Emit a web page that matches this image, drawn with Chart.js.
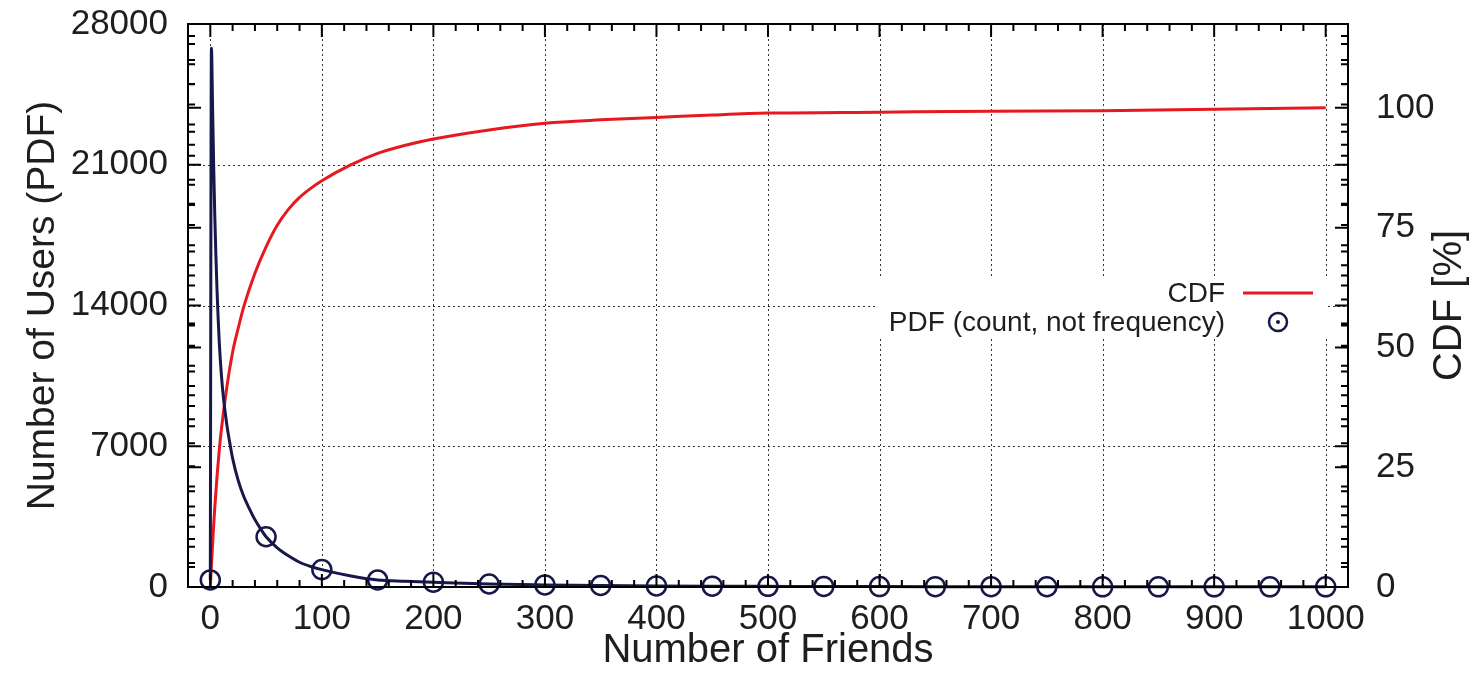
<!DOCTYPE html>
<html>
<head>
<meta charset="utf-8">
<title>Number of Friends</title>
<script src="https://cdn.jsdelivr.net/npm/chart.js@4.4.1/dist/chart.umd.min.js"></script>
<style>
  html, body { margin: 0; padding: 0; background: #fff; }
  #wrap { width: 1472px; height: 675px; }
</style>
</head>
<body>
<div id="wrap"><canvas id="friendsChart" width="1472" height="675"></canvas></div>
<script>
// axis ticks
const friendTicks = [0, 100, 200, 300, 400, 500, 600, 700, 800, 900, 1000];
const userTicks = [0, 7000, 14000, 21000, 28000];
const cdfTicks = [0, 25, 50, 75, 100];

// PDF: users per friend count (circles every 50 friends)
const pdfFriends = [0, 1, 2, 3, 4, 5, 6, 7, 8, 10, 12, 15, 18, 20, 25, 30, 35, 40, 45, 50,
  60, 70, 80, 90, 100, 125, 150, 175, 200, 250, 300, 350, 400, 450, 500,
  550, 600, 650, 700, 750, 800, 850, 900, 950, 1000];
const pdfUsers = [350, 26800, 24000, 21000, 18500, 16500, 14800, 13400, 12200, 10500, 9300, 8000, 7000, 6400, 5300, 4500, 3900, 3350, 2900, 2500,
  1950, 1550, 1230, 1020, 866, 560, 350, 290, 240, 150, 105, 75, 55, 42, 33,
  26, 21, 17, 14, 12, 10, 9, 8, 8, 7];

// CDF in percent
const cdfFriends = [0, 1, 2, 3, 4, 6, 8, 10, 15, 20, 25, 30, 40, 50, 60, 70, 80, 90, 100,
  125, 150, 175, 200, 250, 300, 350, 400, 450, 500, 600, 700, 800, 900, 1000];
const cdfPercent = [0, 4.6, 8.8, 12.8, 16.5, 23, 28.5, 33, 42, 49, 54, 58.5, 65.5, 71, 75.5, 78.8, 81.3, 83.2, 84.8,
  88, 90.5, 92.2, 93.5, 95.4, 96.8, 97.5, 98, 98.5, 98.9, 99.1, 99.3, 99.4, 99.7, 100];

const markerEvery = 50;
const RED = '#e5191f';
const NAVY = '#17174a';
const TEXT = '#1e1e1e';
const FONT = "'Liberation Sans', Arial, sans-serif";

function rangeStep(from, to, step) {
  const out = [];
  for (let v = from; v <= to + 1e-9; v += step) out.push(v);
  return out;
}

// gnuplot-like frame: dotted grid, inward ticks on all sides, key box, right title
const gnuFrame = {
  id: 'gnuFrame',
  beforeDatasetsDraw(chart) {
    const { ctx, chartArea: a, scales: { x, y } } = chart;
    ctx.save();
    ctx.strokeStyle = '#333';
    ctx.lineWidth = 1;
    ctx.setLineDash([2, 3]);
    ctx.beginPath();
    friendTicks.forEach(v => {
      const px = Math.round(x.getPixelForValue(v)) + 0.5;
      ctx.moveTo(px, a.top);
      ctx.lineTo(px, a.bottom);
    });
    userTicks.slice(1, -1).forEach(v => {
      const py = Math.round(y.getPixelForValue(v)) + 0.5;
      ctx.moveTo(a.left, py);
      ctx.lineTo(a.right, py);
    });
    ctx.stroke();
    ctx.setLineDash([]);

    // key
    ctx.fillStyle = '#fff';
    ctx.fillRect(878, 278, 450, 60);
    ctx.font = '28px ' + FONT;
    ctx.fillStyle = TEXT;
    ctx.textAlign = 'right';
    ctx.textBaseline = 'middle';
    ctx.fillText('CDF', 1225, 294);
    ctx.fillText('PDF (count, not frequency)', 1225, 323);
    ctx.strokeStyle = RED;
    ctx.lineWidth = 3;
    ctx.beginPath();
    ctx.moveTo(1243, 293);
    ctx.lineTo(1313, 293);
    ctx.stroke();
    ctx.strokeStyle = NAVY;
    ctx.lineWidth = 2.5;
    ctx.beginPath();
    ctx.arc(1278, 322, 9, 0, Math.PI * 2);
    ctx.stroke();
    ctx.fillStyle = NAVY;
    ctx.beginPath();
    ctx.arc(1278, 322, 2, 0, Math.PI * 2);
    ctx.fill();
    ctx.restore();
  },
  afterDatasetsDraw(chart) {
    const { ctx, chartArea: a, scales: { x, y, y2 } } = chart;
    ctx.save();
    ctx.strokeStyle = '#000';
    ctx.lineWidth = 2;
    ctx.strokeRect(a.left, a.top, a.right - a.left, a.bottom - a.top);

    const major = 13, minor = 7;
    ctx.beginPath();
    rangeStep(0, 1000, 20).forEach(v => {
      const px = x.getPixelForValue(v);
      const len = v % 100 === 0 ? major : minor;
      ctx.moveTo(px, a.bottom); ctx.lineTo(px, a.bottom - len);
      ctx.moveTo(px, a.top); ctx.lineTo(px, a.top + len);
    });
    rangeStep(0, 28000, 1000).forEach(v => {
      const py = y.getPixelForValue(v);
      const len = v % 7000 === 0 ? major : minor;
      ctx.moveTo(a.left, py); ctx.lineTo(a.left + len, py);
      ctx.moveTo(a.right, py); ctx.lineTo(a.right - len, py);
    });
    rangeStep(0, 115, 5).forEach(v => {
      const py = y2.getPixelForValue(v);
      const len = v % 25 === 0 ? major : minor;
      ctx.moveTo(a.left, py); ctx.lineTo(a.left + len, py);
      ctx.moveTo(a.right, py); ctx.lineTo(a.right - len, py);
    });
    ctx.stroke();

    // right axis title, reading bottom to top
    ctx.translate(1450, (a.top + a.bottom) / 2);
    ctx.rotate(-Math.PI / 2);
    ctx.font = '40px ' + FONT;
    ctx.fillStyle = TEXT;
    ctx.textAlign = 'center';
    ctx.textBaseline = 'middle';
    ctx.fillText('CDF [%]', 0, 0);
    ctx.restore();
  }
};

const fixTicks = values => scale => { scale.ticks = values.map(v => ({ value: v })); };
const plainLabel = v => String(v);
const fixBox = (prop, size) => s => {
  s[prop] = size;
  s.paddingTop = 0; s.paddingBottom = 0; s.paddingLeft = 0; s.paddingRight = 0;
};

new Chart(document.getElementById('friendsChart').getContext('2d'), {
  type: 'line',
  data: {
    datasets: [
      {
        label: 'PDF (count, not frequency)',
        data: pdfFriends.map((f, i) => ({ x: f, y: pdfUsers[i] })),
        yAxisID: 'y',
        borderColor: NAVY,
        borderWidth: 3,
        cubicInterpolationMode: 'monotone',
        pointRadius: c => (c.raw && c.raw.x % markerEvery === 0 ? 9.5 : 0),
        pointBorderWidth: 2.5,
        pointBorderColor: NAVY,
        pointBackgroundColor: 'rgba(0,0,0,0)',
        clip: false
      },
      {
        label: 'CDF',
        data: cdfFriends.map((f, i) => ({ x: f, y: cdfPercent[i] })),
        yAxisID: 'y2',
        borderColor: RED,
        borderWidth: 3,
        cubicInterpolationMode: 'monotone',
        pointRadius: 0
      }
    ]
  },
  options: {
    responsive: false,
    animation: false,
    devicePixelRatio: 1,
    layout: { padding: { top: 24, left: 0, right: 0, bottom: 0 } },
    plugins: { legend: { display: false }, tooltip: { enabled: false } },
    scales: {
      x: {
        type: 'linear',
        min: -20,
        max: 1020,
        afterBuildTicks: fixTicks(friendTicks),
        afterFit: fixBox('height', 88),
        grid: { display: false, drawTicks: false },
        border: { display: false },
        ticks: { padding: 11, color: TEXT, font: { size: 35, family: FONT }, maxRotation: 0, callback: plainLabel },
        title: { display: true, text: 'Number of Friends', color: TEXT, font: { size: 40, family: FONT }, padding: { top: 0, bottom: 0 } }
      },
      y: {
        position: 'left',
        min: 0,
        max: 28000,
        afterBuildTicks: fixTicks(userTicks),
        afterFit: fixBox('width', 188),
        grid: { display: false, drawTicks: false },
        border: { display: false },
        ticks: { padding: 20, color: TEXT, font: { size: 35, family: FONT }, callback: plainLabel },
        title: { display: true, text: 'Number of Users (PDF)', color: TEXT, font: { size: 39, family: FONT }, padding: { top: 20, bottom: 0 } }
      },
      y2: {
        position: 'right',
        min: 0,
        max: 117.5,
        afterBuildTicks: fixTicks(cdfTicks),
        afterFit: fixBox('width', 124),
        grid: { display: false, drawTicks: false },
        border: { display: false },
        ticks: { padding: 28, color: TEXT, font: { size: 35, family: FONT }, callback: plainLabel }
      }
    }
  },
  plugins: [gnuFrame]
});
</script>
</body>
</html>
